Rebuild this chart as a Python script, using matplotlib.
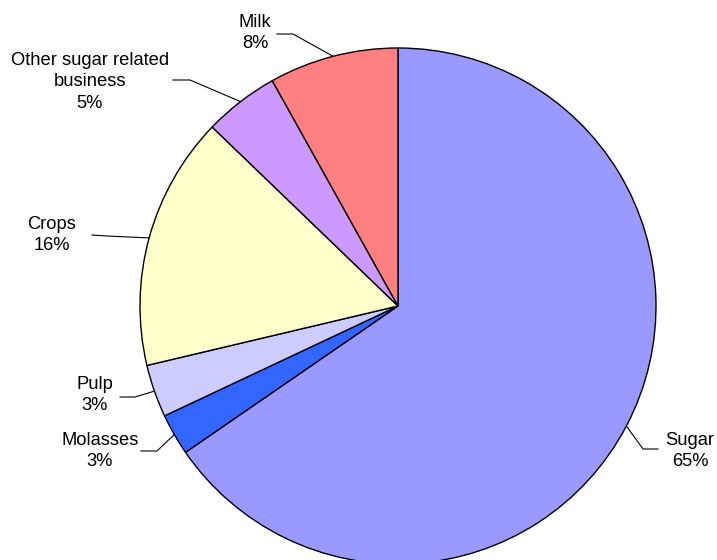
import numpy as np
import matplotlib
matplotlib.use("Agg")
import matplotlib.pyplot as plt

categories = ["Sugar", "Molasses", "Pulp", "Crops", "Other sugar related\nbusiness", "Milk"]
shares = [65.4, 2.6, 3.3, 15.9, 4.7, 8.1]
colors = ["#9999FF", "#3366FF", "#CCCCFF", "#FFFFCC", "#CC99FF", "#FF8080"]

# label layout (pixel coords, y down): text centre, elbow, end of horizontal stub
label_pos = [(690, 451), (100, 451), (95, 395), (52, 235), (90, 82), (255, 33)]
elbow = [(643, 449), (157, 451), (135, 397), (107, 236), (190, 80), (293, 34)]
stub_end = [(658, 449), (141, 451), (120, 397), (92, 235), (173, 80), (277, 34)]

W, H = 717, 560
cx, cy, r = 398, 306, 258

fig = plt.figure(figsize=(W / 100, H / 100), dpi=100)
ax = fig.add_axes([0, 0, 1, 1])
wedges, _ = ax.pie(shares, colors=colors, startangle=90, counterclock=False,
                   center=(cx, H - cy), radius=r,
                   wedgeprops=dict(edgecolor="black", linewidth=1.0))
ax.set_xlim(0, W)
ax.set_ylim(0, H)
ax.set_aspect("equal", adjustable="box")
ax.axis("off")

for w, cat, val, tp, el, se in zip(wedges, categories, shares, label_pos, elbow, stub_end):
    mid = np.deg2rad((w.theta1 + w.theta2) / 2)
    px = cx + r * np.cos(mid)
    py = (H - cy) + r * np.sin(mid)
    ax.plot([px, el[0], se[0]], [py, H - el[1], H - se[1]], color="black", lw=0.8,
            solid_joinstyle="miter")
    ax.text(tp[0], H - tp[1], f"{cat}\n{round(val)}%", ha="center", va="center",
            fontsize=13.2, family="Liberation Sans", linespacing=1.36)

fig.savefig("out.png", dpi=100)
